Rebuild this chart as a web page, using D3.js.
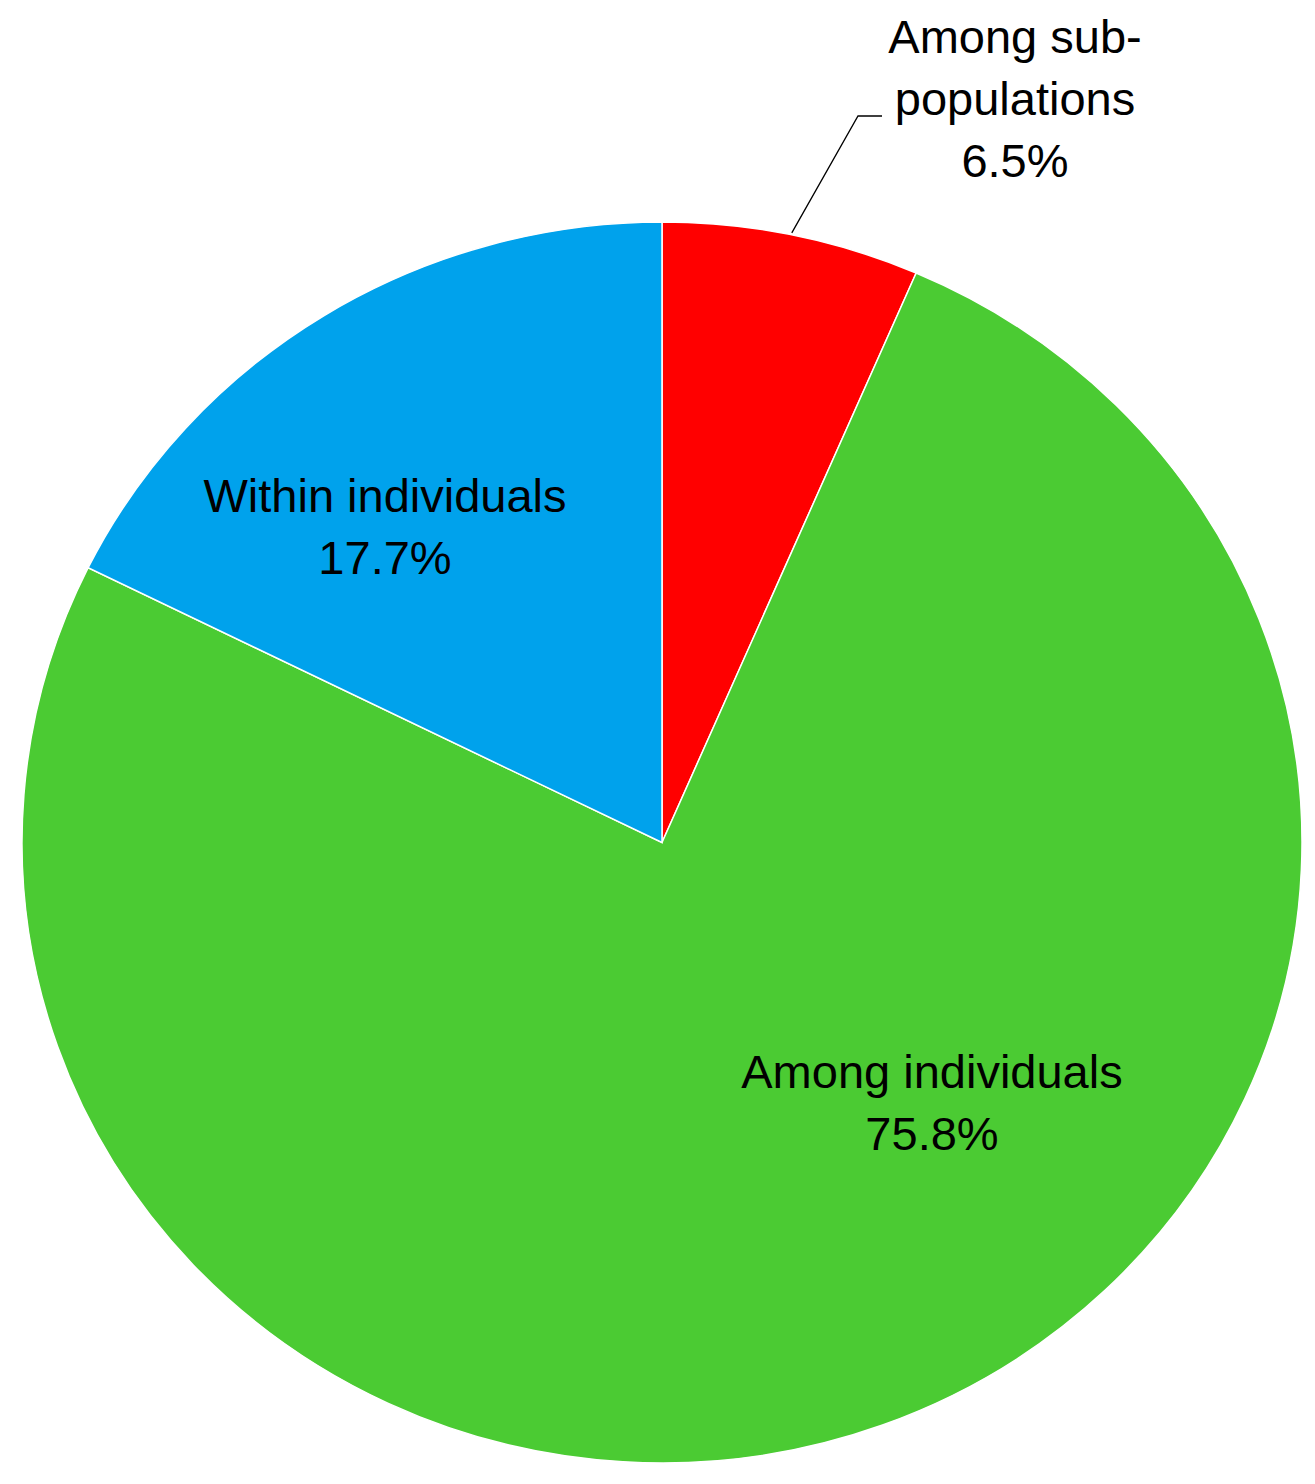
<!DOCTYPE html>
<html>
<head>
<meta charset="utf-8">
<script src="https://cdn.jsdelivr.net/npm/d3@7"></script>
<style>
  body { margin: 0; background: #fff; }
  svg text { font-family: "Liberation Sans", Arial, sans-serif; fill: #000; }
</style>
</head>
<body>
<div id="chart"></div>
<script>
/* global d3 */

// slices, clockwise from 12 o'clock
var categories = [ "Among sub-populations", "Among individuals", "Within individuals" ];
var values = [ 6.5, 75.8, 17.7 ];
var labelLines = [ [ "Among sub-", "populations" ], [ "Among individuals" ], [ "Within individuals" ] ];
var colors = [ "#ff0000", "#4bcb33", "#00a2ec" ];

var width = 1315,
  height = 1484,
  cx = 662,
  cy = 842.5,
  rx = 640,
  ry = 620.5;

// label anchors (baseline centre of first text line) relative to pie centre, in px
var labelOffset = [ [ 353, -789.5 ], [ 270, 245.5 ], [ -277, -330.5 ] ];
var lineHeight = 62;

var data = categories.map( function( c, i ) {
  return { name: c, value: values[ i ], lines: labelLines[ i ], color: colors[ i ], off: labelOffset[ i ] };
} );

var svg = d3.select( "#chart" ).append( "svg" )
  .attr( "width", width )
  .attr( "height", height );

var pie = d3.pie()
  .sort( null )
  .value( function( d ) { return d.value; } );

var arc = d3.arc()
  .innerRadius( 0 )
  .outerRadius( ry );

var arcs = pie( data );

// the source is slightly stretched horizontally
var gPie = svg.append( "g" )
  .attr( "transform", "translate(" + cx + "," + cy + ") scale(" + ( rx / ry ) + ",1)" );

gPie.selectAll( "path" )
  .data( arcs )
  .enter()
  .append( "path" )
    .attr( "d", arc )
    .attr( "fill", function( d ) { return d.data.color; } )
    .attr( "stroke", "#fff" )
    .attr( "stroke-width", 1.5 )
    .attr( "vector-effect", "non-scaling-stroke" );

// leader line for the small slice, starting at the middle of its outer edge
var small = arcs[ 0 ];
var a0 = ( small.startAngle + small.endAngle ) / 2;
var p0 = [ cx + Math.sin( a0 ) * rx, cy - Math.cos( a0 ) * ry - 2 ];
svg.append( "polyline" )
  .attr( "points", [ p0, [ 858, 116 ], [ 882, 116 ] ].map( function( p ) { return p.join( "," ); } ).join( " " ) )
  .attr( "fill", "none" )
  .attr( "stroke", "#000" )
  .attr( "stroke-width", 1.3 );

// labels
var gLab = svg.append( "g" );
data.forEach( function( d ) {
  var t = gLab.append( "text" )
    .attr( "text-anchor", "middle" )
    .attr( "font-size", 47 )
    .attr( "x", cx + d.off[ 0 ] )
    .attr( "y", cy + d.off[ 1 ] );
  var lines = d.lines.concat( [ d3.format( ".1f" )( d.value ) + "%" ] );
  lines.forEach( function( l, i ) {
    t.append( "tspan" )
      .attr( "x", cx + d.off[ 0 ] )
      .attr( "dy", i === 0 ? 0 : lineHeight )
      .text( l );
  } );
} );
</script>
</body>
</html>
